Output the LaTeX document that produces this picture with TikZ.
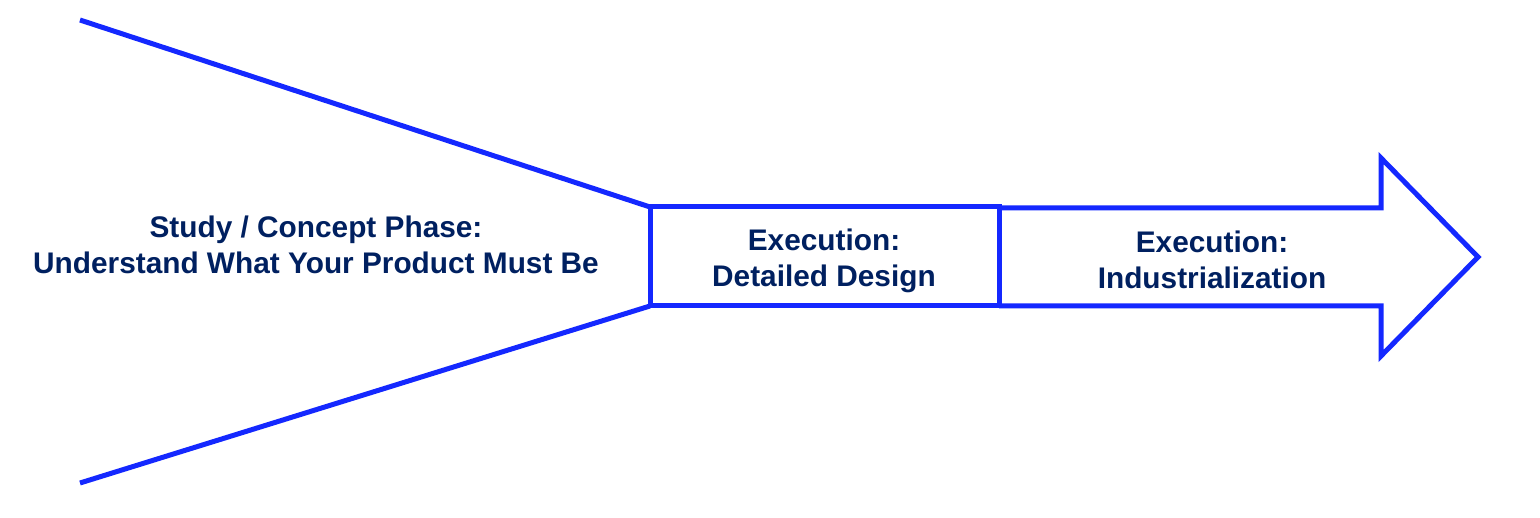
\documentclass[tikz,border=0pt]{standalone}
\usepackage{fontspec}
\setmainfont{Liberation Sans}
\definecolor{lineblue}{RGB}{20,40,255}
\definecolor{textnavy}{RGB}{0,32,96}
\begin{document}
\begin{tikzpicture}[x=1pt,y=-1pt,
  blueline/.style={draw=lineblue,line width=5pt,line join=miter},
  lbl/.style={text=textnavy,font=\fontsize{29.8}{36}\selectfont\bfseries,align=center,inner sep=0pt}]
\useasboundingbox (0,0) rectangle (1540,518);
\coordinate (tl) at (80,20);
\coordinate (bl) at (80,483);
\coordinate (bxtl) at (650,207);
\coordinate (bxbl) at (650,306);
\draw[blueline] (tl) -- (bxtl);
\draw[blueline] (bl) -- (bxbl);
\draw[blueline] (999,208) -- (1381,208) -- (1381,158) -- (1478,257) -- (1381,356) -- (1381,306) -- (999,306);
\draw[blueline] (bxtl) rectangle (999,306);
\node[lbl] (study) at (316,245) {Study / Concept Phase:\\Understand What Your Product Must Be};
\node[lbl] (detail) at (824,260.5) {Execution:\\Detailed Design};
\node[lbl] (indus) at (1212,260) {Execution:\\Industrialization};
\end{tikzpicture}
\end{document}
